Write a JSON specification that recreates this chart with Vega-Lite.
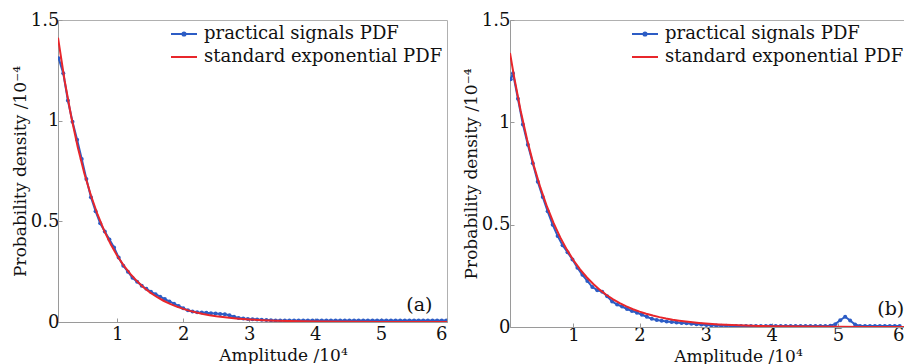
{
  "$schema": "https://vega.github.io/schema/vega-lite/v6.json",
  "padding": {"left": 10, "top": 10, "right": 0, "bottom": 0},
  "background": "white",
  "spacing": 13,
  "resolve": {"scale": {"color": "independent"}, "legend": {"color": "independent"}},
  "datasets": {
    "blueA": [
      {"x":0.11,"y":1.31,"series":"practical signals PDF"},{"x":0.18,"y":1.235,"series":"practical signals PDF"},{"x":0.25,"y":1.10,"series":"practical signals PDF"},{"x":0.32,"y":0.995,"series":"practical signals PDF"},{"x":0.39,"y":0.905,"series":"practical signals PDF"},{"x":0.46,"y":0.81,"series":"practical signals PDF"},{"x":0.53,"y":0.71,"series":"practical signals PDF"},{"x":0.60,"y":0.62,"series":"practical signals PDF"},{"x":0.67,"y":0.55,"series":"practical signals PDF"},{"x":0.74,"y":0.49,"series":"practical signals PDF"},{"x":0.81,"y":0.45,"series":"practical signals PDF"},{"x":0.88,"y":0.41,"series":"practical signals PDF"},{"x":0.95,"y":0.37,"series":"practical signals PDF"},{"x":1.02,"y":0.32,"series":"practical signals PDF"},{"x":1.09,"y":0.28,"series":"practical signals PDF"},{"x":1.16,"y":0.25,"series":"practical signals PDF"},{"x":1.23,"y":0.22,"series":"practical signals PDF"},{"x":1.30,"y":0.20,"series":"practical signals PDF"},{"x":1.37,"y":0.18,"series":"practical signals PDF"},{"x":1.44,"y":0.165,"series":"practical signals PDF"},{"x":1.51,"y":0.15,"series":"practical signals PDF"},{"x":1.58,"y":0.138,"series":"practical signals PDF"},{"x":1.65,"y":0.126,"series":"practical signals PDF"},{"x":1.72,"y":0.114,"series":"practical signals PDF"},{"x":1.79,"y":0.102,"series":"practical signals PDF"},{"x":1.86,"y":0.091,"series":"practical signals PDF"},{"x":1.93,"y":0.08,"series":"practical signals PDF"},{"x":2.00,"y":0.068,"series":"practical signals PDF"},{"x":2.07,"y":0.058,"series":"practical signals PDF"},{"x":2.14,"y":0.052,"series":"practical signals PDF"},{"x":2.21,"y":0.048,"series":"practical signals PDF"},{"x":2.28,"y":0.047,"series":"practical signals PDF"},{"x":2.35,"y":0.046,"series":"practical signals PDF"},{"x":2.42,"y":0.044,"series":"practical signals PDF"},{"x":2.49,"y":0.042,"series":"practical signals PDF"},{"x":2.56,"y":0.040,"series":"practical signals PDF"},{"x":2.63,"y":0.038,"series":"practical signals PDF"},{"x":2.70,"y":0.034,"series":"practical signals PDF"},{"x":2.77,"y":0.026,"series":"practical signals PDF"},{"x":2.84,"y":0.020,"series":"practical signals PDF"},{"x":2.91,"y":0.017,"series":"practical signals PDF"},{"x":2.98,"y":0.015,"series":"practical signals PDF"},{"x":3.05,"y":0.014,"series":"practical signals PDF"},{"x":3.12,"y":0.013,"series":"practical signals PDF"},{"x":3.19,"y":0.011,"series":"practical signals PDF"},{"x":3.26,"y":0.010,"series":"practical signals PDF"},{"x":3.33,"y":0.009,"series":"practical signals PDF"},{"x":3.40,"y":0.008,"series":"practical signals PDF"},{"x":3.47,"y":0.008,"series":"practical signals PDF"},{"x":3.54,"y":0.008,"series":"practical signals PDF"},{"x":3.61,"y":0.008,"series":"practical signals PDF"},{"x":3.68,"y":0.007,"series":"practical signals PDF"},{"x":3.75,"y":0.007,"series":"practical signals PDF"},{"x":3.82,"y":0.007,"series":"practical signals PDF"},{"x":3.89,"y":0.007,"series":"practical signals PDF"},{"x":3.96,"y":0.007,"series":"practical signals PDF"},{"x":4.03,"y":0.007,"series":"practical signals PDF"},{"x":4.10,"y":0.007,"series":"practical signals PDF"},{"x":4.17,"y":0.007,"series":"practical signals PDF"},{"x":4.24,"y":0.007,"series":"practical signals PDF"},{"x":4.31,"y":0.007,"series":"practical signals PDF"},{"x":4.38,"y":0.007,"series":"practical signals PDF"},{"x":4.45,"y":0.007,"series":"practical signals PDF"},{"x":4.52,"y":0.007,"series":"practical signals PDF"},{"x":4.59,"y":0.007,"series":"practical signals PDF"},{"x":4.66,"y":0.007,"series":"practical signals PDF"},{"x":4.73,"y":0.007,"series":"practical signals PDF"},{"x":4.80,"y":0.007,"series":"practical signals PDF"},{"x":4.87,"y":0.007,"series":"practical signals PDF"},{"x":4.94,"y":0.007,"series":"practical signals PDF"},{"x":5.01,"y":0.007,"series":"practical signals PDF"},{"x":5.08,"y":0.007,"series":"practical signals PDF"},{"x":5.15,"y":0.007,"series":"practical signals PDF"},{"x":5.22,"y":0.007,"series":"practical signals PDF"},{"x":5.29,"y":0.007,"series":"practical signals PDF"},{"x":5.36,"y":0.007,"series":"practical signals PDF"},{"x":5.43,"y":0.007,"series":"practical signals PDF"},{"x":5.50,"y":0.007,"series":"practical signals PDF"},{"x":5.57,"y":0.007,"series":"practical signals PDF"},{"x":5.64,"y":0.007,"series":"practical signals PDF"},{"x":5.71,"y":0.007,"series":"practical signals PDF"},{"x":5.78,"y":0.007,"series":"practical signals PDF"},{"x":5.85,"y":0.007,"series":"practical signals PDF"},{"x":5.92,"y":0.007,"series":"practical signals PDF"},{"x":5.99,"y":0.007,"series":"practical signals PDF"}
    ],
    "redA": [
      {"x":0.1,"y":1.412,"series":"standard exponential PDF"},{"x":0.2,"y":1.200,"series":"standard exponential PDF"},{"x":0.3,"y":1.021,"series":"standard exponential PDF"},{"x":0.4,"y":0.868,"series":"standard exponential PDF"},{"x":0.5,"y":0.738,"series":"standard exponential PDF"},{"x":0.6,"y":0.628,"series":"standard exponential PDF"},{"x":0.7,"y":0.534,"series":"standard exponential PDF"},{"x":0.8,"y":0.454,"series":"standard exponential PDF"},{"x":0.9,"y":0.386,"series":"standard exponential PDF"},{"x":1.0,"y":0.328,"series":"standard exponential PDF"},{"x":1.1,"y":0.279,"series":"standard exponential PDF"},{"x":1.2,"y":0.2375,"series":"standard exponential PDF"},{"x":1.3,"y":0.202,"series":"standard exponential PDF"},{"x":1.4,"y":0.1717,"series":"standard exponential PDF"},{"x":1.5,"y":0.146,"series":"standard exponential PDF"},{"x":1.6,"y":0.1242,"series":"standard exponential PDF"},{"x":1.7,"y":0.1056,"series":"standard exponential PDF"},{"x":1.8,"y":0.0898,"series":"standard exponential PDF"},{"x":1.9,"y":0.0764,"series":"standard exponential PDF"},{"x":2.0,"y":0.065,"series":"standard exponential PDF"},{"x":2.1,"y":0.0552,"series":"standard exponential PDF"},{"x":2.2,"y":0.047,"series":"standard exponential PDF"},{"x":2.3,"y":0.040,"series":"standard exponential PDF"},{"x":2.4,"y":0.034,"series":"standard exponential PDF"},{"x":2.5,"y":0.0289,"series":"standard exponential PDF"},{"x":2.6,"y":0.0246,"series":"standard exponential PDF"},{"x":2.7,"y":0.0209,"series":"standard exponential PDF"},{"x":2.8,"y":0.0178,"series":"standard exponential PDF"},{"x":2.9,"y":0.0151,"series":"standard exponential PDF"},{"x":3.0,"y":0.0128,"series":"standard exponential PDF"},{"x":3.2,"y":0.0093,"series":"standard exponential PDF"},{"x":3.4,"y":0.0067,"series":"standard exponential PDF"},{"x":3.6,"y":0.0048,"series":"standard exponential PDF"},{"x":3.8,"y":0.0035,"series":"standard exponential PDF"},{"x":4.0,"y":0.0025,"series":"standard exponential PDF"},{"x":4.5,"y":0.0011,"series":"standard exponential PDF"},{"x":5.0,"y":0.0005,"series":"standard exponential PDF"},{"x":5.5,"y":0.0002,"series":"standard exponential PDF"},{"x":6.0,"y":0.0001,"series":"standard exponential PDF"}
    ],
    "blueB": [
      {"x":0.05,"y":1.21,"series":"practical signals PDF"},{"x":0.085,"y":1.24,"series":"practical signals PDF"},{"x":0.16,"y":1.115,"series":"practical signals PDF"},{"x":0.235,"y":0.99,"series":"practical signals PDF"},{"x":0.31,"y":0.89,"series":"practical signals PDF"},{"x":0.385,"y":0.80,"series":"practical signals PDF"},{"x":0.46,"y":0.71,"series":"practical signals PDF"},{"x":0.535,"y":0.635,"series":"practical signals PDF"},{"x":0.61,"y":0.565,"series":"practical signals PDF"},{"x":0.685,"y":0.50,"series":"practical signals PDF"},{"x":0.76,"y":0.445,"series":"practical signals PDF"},{"x":0.835,"y":0.40,"series":"practical signals PDF"},{"x":0.91,"y":0.365,"series":"practical signals PDF"},{"x":0.985,"y":0.33,"series":"practical signals PDF"},{"x":1.06,"y":0.29,"series":"practical signals PDF"},{"x":1.135,"y":0.255,"series":"practical signals PDF"},{"x":1.21,"y":0.225,"series":"practical signals PDF"},{"x":1.285,"y":0.195,"series":"practical signals PDF"},{"x":1.36,"y":0.18,"series":"practical signals PDF"},{"x":1.435,"y":0.172,"series":"practical signals PDF"},{"x":1.51,"y":0.15,"series":"practical signals PDF"},{"x":1.585,"y":0.125,"series":"practical signals PDF"},{"x":1.66,"y":0.11,"series":"practical signals PDF"},{"x":1.735,"y":0.10,"series":"practical signals PDF"},{"x":1.81,"y":0.088,"series":"practical signals PDF"},{"x":1.885,"y":0.078,"series":"practical signals PDF"},{"x":1.96,"y":0.070,"series":"practical signals PDF"},{"x":2.035,"y":0.060,"series":"practical signals PDF"},{"x":2.11,"y":0.050,"series":"practical signals PDF"},{"x":2.185,"y":0.040,"series":"practical signals PDF"},{"x":2.26,"y":0.034,"series":"practical signals PDF"},{"x":2.335,"y":0.030,"series":"practical signals PDF"},{"x":2.41,"y":0.027,"series":"practical signals PDF"},{"x":2.485,"y":0.025,"series":"practical signals PDF"},{"x":2.56,"y":0.022,"series":"practical signals PDF"},{"x":2.635,"y":0.020,"series":"practical signals PDF"},{"x":2.71,"y":0.018,"series":"practical signals PDF"},{"x":2.785,"y":0.016,"series":"practical signals PDF"},{"x":2.86,"y":0.014,"series":"practical signals PDF"},{"x":2.935,"y":0.012,"series":"practical signals PDF"},{"x":3.01,"y":0.010,"series":"practical signals PDF"},{"x":3.085,"y":0.008,"series":"practical signals PDF"},{"x":3.16,"y":0.007,"series":"practical signals PDF"},{"x":3.235,"y":0.006,"series":"practical signals PDF"},{"x":3.31,"y":0.006,"series":"practical signals PDF"},{"x":3.385,"y":0.005,"series":"practical signals PDF"},{"x":3.46,"y":0.005,"series":"practical signals PDF"},{"x":3.535,"y":0.005,"series":"practical signals PDF"},{"x":3.61,"y":0.005,"series":"practical signals PDF"},{"x":3.685,"y":0.005,"series":"practical signals PDF"},{"x":3.76,"y":0.005,"series":"practical signals PDF"},{"x":3.835,"y":0.005,"series":"practical signals PDF"},{"x":3.91,"y":0.005,"series":"practical signals PDF"},{"x":3.985,"y":0.006,"series":"practical signals PDF"},{"x":4.06,"y":0.005,"series":"practical signals PDF"},{"x":4.135,"y":0.005,"series":"practical signals PDF"},{"x":4.21,"y":0.005,"series":"practical signals PDF"},{"x":4.285,"y":0.005,"series":"practical signals PDF"},{"x":4.36,"y":0.005,"series":"practical signals PDF"},{"x":4.435,"y":0.005,"series":"practical signals PDF"},{"x":4.51,"y":0.005,"series":"practical signals PDF"},{"x":4.585,"y":0.005,"series":"practical signals PDF"},{"x":4.66,"y":0.005,"series":"practical signals PDF"},{"x":4.735,"y":0.005,"series":"practical signals PDF"},{"x":4.81,"y":0.005,"series":"practical signals PDF"},{"x":4.885,"y":0.006,"series":"practical signals PDF"},{"x":4.96,"y":0.014,"series":"practical signals PDF"},{"x":5.035,"y":0.033,"series":"practical signals PDF"},{"x":5.11,"y":0.050,"series":"practical signals PDF"},{"x":5.185,"y":0.032,"series":"practical signals PDF"},{"x":5.26,"y":0.012,"series":"practical signals PDF"},{"x":5.335,"y":0.005,"series":"practical signals PDF"},{"x":5.41,"y":0.005,"series":"practical signals PDF"},{"x":5.485,"y":0.005,"series":"practical signals PDF"},{"x":5.56,"y":0.005,"series":"practical signals PDF"},{"x":5.635,"y":0.005,"series":"practical signals PDF"},{"x":5.71,"y":0.005,"series":"practical signals PDF"},{"x":5.785,"y":0.005,"series":"practical signals PDF"},{"x":5.86,"y":0.005,"series":"practical signals PDF"},{"x":5.935,"y":0.005,"series":"practical signals PDF"}
    ],
    "redB": [
      {"x":0.04,"y":1.339,"series":"standard exponential PDF"},{"x":0.1,"y":1.2258,"series":"standard exponential PDF"},{"x":0.2,"y":1.0582,"series":"standard exponential PDF"},{"x":0.3,"y":0.9135,"series":"standard exponential PDF"},{"x":0.4,"y":0.7885,"series":"standard exponential PDF"},{"x":0.5,"y":0.6807,"series":"standard exponential PDF"},{"x":0.6,"y":0.5876,"series":"standard exponential PDF"},{"x":0.7,"y":0.5072,"series":"standard exponential PDF"},{"x":0.8,"y":0.4379,"series":"standard exponential PDF"},{"x":0.9,"y":0.378,"series":"standard exponential PDF"},{"x":1.0,"y":0.3263,"series":"standard exponential PDF"},{"x":1.1,"y":0.2817,"series":"standard exponential PDF"},{"x":1.2,"y":0.2431,"series":"standard exponential PDF"},{"x":1.3,"y":0.2099,"series":"standard exponential PDF"},{"x":1.4,"y":0.1812,"series":"standard exponential PDF"},{"x":1.5,"y":0.1564,"series":"standard exponential PDF"},{"x":1.6,"y":0.135,"series":"standard exponential PDF"},{"x":1.7,"y":0.1166,"series":"standard exponential PDF"},{"x":1.8,"y":0.1006,"series":"standard exponential PDF"},{"x":1.9,"y":0.0869,"series":"standard exponential PDF"},{"x":2.0,"y":0.075,"series":"standard exponential PDF"},{"x":2.1,"y":0.0647,"series":"standard exponential PDF"},{"x":2.2,"y":0.0559,"series":"standard exponential PDF"},{"x":2.3,"y":0.0482,"series":"standard exponential PDF"},{"x":2.4,"y":0.0416,"series":"standard exponential PDF"},{"x":2.5,"y":0.0359,"series":"standard exponential PDF"},{"x":2.6,"y":0.031,"series":"standard exponential PDF"},{"x":2.7,"y":0.0268,"series":"standard exponential PDF"},{"x":2.8,"y":0.0231,"series":"standard exponential PDF"},{"x":2.9,"y":0.02,"series":"standard exponential PDF"},{"x":3.0,"y":0.0172,"series":"standard exponential PDF"},{"x":3.2,"y":0.0128,"series":"standard exponential PDF"},{"x":3.4,"y":0.0096,"series":"standard exponential PDF"},{"x":3.6,"y":0.0071,"series":"standard exponential PDF"},{"x":3.8,"y":0.0053,"series":"standard exponential PDF"},{"x":4.0,"y":0.004,"series":"standard exponential PDF"},{"x":4.5,"y":0.0019,"series":"standard exponential PDF"},{"x":5.0,"y":0.0009,"series":"standard exponential PDF"},{"x":5.5,"y":0.0004,"series":"standard exponential PDF"},{"x":6.0,"y":0.0002,"series":"standard exponential PDF"}
    ],
    "tagA": [{"x": 5.58, "y": 0.085, "tag": "(a)"}],
    "tagB": [{"x": 5.8, "y": 0.088, "tag": "(b)"}]
  },
  "hconcat": [
    {
      "width": 389,
      "height": 302,
      "layer": [
        {
          "data": {"name": "blueA"},
          "mark": {"type": "line", "strokeWidth": 2, "clip": true, "point": {"filled": true, "size": 16}},
          "encoding": {
            "x": {"field": "x", "type": "quantitative", "scale": {"domain": [0.1, 6], "nice": false, "zero": false},
                  "axis": {"values": [1,2,3,4,5,6], "labelExpr": "datum.value", "labelPadding": 7, "title": "Amplitude /10⁴", "titleX": 225, "titleY": 38, "titleBaseline": "alphabetic"}},
            "y": {"field": "y", "type": "quantitative", "scale": {"domain": [0, 1.5], "nice": false},
                  "axis": {"values": [0, 0.5, 1, 1.5], "labelExpr": "datum.value", "labelPadding": 3, "title": "Probability density /10⁻⁴", "titlePadding": 1}},
            "color": {"field": "series", "type": "nominal",
                      "scale": {"domain": ["practical signals PDF", "standard exponential PDF"], "range": ["#2c5cc5", "#e8262b"]},
                      "legend": {"orient": "none", "legendX": 112, "legendY": 0, "title": null, "padding": 0,
                                 "symbolType": "stroke", "symbolSize": 676, "symbolStrokeWidth": 2,
                                 "labelFont": "DejaVu Serif", "labelFontSize": 18, "labelColor": "#111", "labelOffset": 6, "labelLimit": 0, "rowPadding": -9,
                                 "encode": {"symbols": {"update": {"shape": {"signal": "datum.value === 'practical signals PDF' ? 'M-1,0H1M-0.12,0A0.12,0.12,0,1,1,0.12,0A0.12,0.12,0,1,1,-0.12,0' : 'M-1,0H1'"}}}}}}
          }
        },
        {
          "data": {"name": "redA"},
          "mark": {"type": "line", "strokeWidth": 2, "clip": true},
          "encoding": {
            "x": {"field": "x", "type": "quantitative"},
            "y": {"field": "y", "type": "quantitative"},
            "color": {"field": "series", "type": "nominal"}
          }
        },
        {
          "data": {"name": "tagA"},
          "mark": {"type": "text", "font": "DejaVu Serif", "fontSize": 19, "color": "#111"},
          "encoding": {"x": {"field": "x", "type": "quantitative"}, "y": {"field": "y", "type": "quantitative"}, "text": {"field": "tag"}}
        }
      ]
    },
    {
      "width": 394,
      "height": 307,
      "layer": [
        {
          "data": {"name": "blueB"},
          "mark": {"type": "line", "strokeWidth": 2, "clip": true, "point": {"filled": true, "size": 16}},
          "encoding": {
            "x": {"field": "x", "type": "quantitative", "scale": {"domain": [0.04, 6], "nice": false, "zero": false},
                  "axis": {"values": [1,2,3,4,5,6], "labelExpr": "datum.value", "labelPadding": 3, "labelFlush": true, "title": "Amplitude /10⁴", "titleX": 228, "titleY": 34, "titleBaseline": "alphabetic"}},
            "y": {"field": "y", "type": "quantitative", "scale": {"domain": [0, 1.5], "nice": false},
                  "axis": {"values": [0, 0.5, 1, 1.5], "labelExpr": "datum.value", "labelPadding": 4, "title": "Probability density /10⁻⁴", "titlePadding": 1}},
            "color": {"field": "series", "type": "nominal",
                      "scale": {"domain": ["practical signals PDF", "standard exponential PDF"], "range": ["#2c5cc5", "#e8262b"]},
                      "legend": {"orient": "none", "legendX": 121, "legendY": 0, "title": null, "padding": 0,
                                 "symbolType": "stroke", "symbolSize": 676, "symbolStrokeWidth": 2,
                                 "labelFont": "DejaVu Serif", "labelFontSize": 18, "labelColor": "#111", "labelOffset": 6, "labelLimit": 0, "rowPadding": -9,
                                 "encode": {"symbols": {"update": {"shape": {"signal": "datum.value === 'practical signals PDF' ? 'M-1,0H1M-0.12,0A0.12,0.12,0,1,1,0.12,0A0.12,0.12,0,1,1,-0.12,0' : 'M-1,0H1'"}}}}}}
          }
        },
        {
          "data": {"name": "redB"},
          "mark": {"type": "line", "strokeWidth": 2, "clip": true},
          "encoding": {
            "x": {"field": "x", "type": "quantitative"},
            "y": {"field": "y", "type": "quantitative"},
            "color": {"field": "series", "type": "nominal"}
          }
        },
        {
          "data": {"name": "tagB"},
          "mark": {"type": "text", "font": "DejaVu Serif", "fontSize": 19, "color": "#111"},
          "encoding": {"x": {"field": "x", "type": "quantitative"}, "y": {"field": "y", "type": "quantitative"}, "text": {"field": "tag"}}
        }
      ]
    }
  ],
  "config": {
    "font": "DejaVu Serif",
    "view": {"stroke": "#b0b0b0", "strokeWidth": 1},
    "axis": {
      "grid": false,
      "labelFont": "DejaVu Serif", "labelFontSize": 18, "labelColor": "#111",
      "titleFont": "DejaVu Serif", "titleFontSize": 17, "titleFontWeight": "normal", "titleColor": "#111",
      "domainColor": "#9a9a9a", "tickColor": "#9a9a9a", "tickSize": -4
    }
  }
}
